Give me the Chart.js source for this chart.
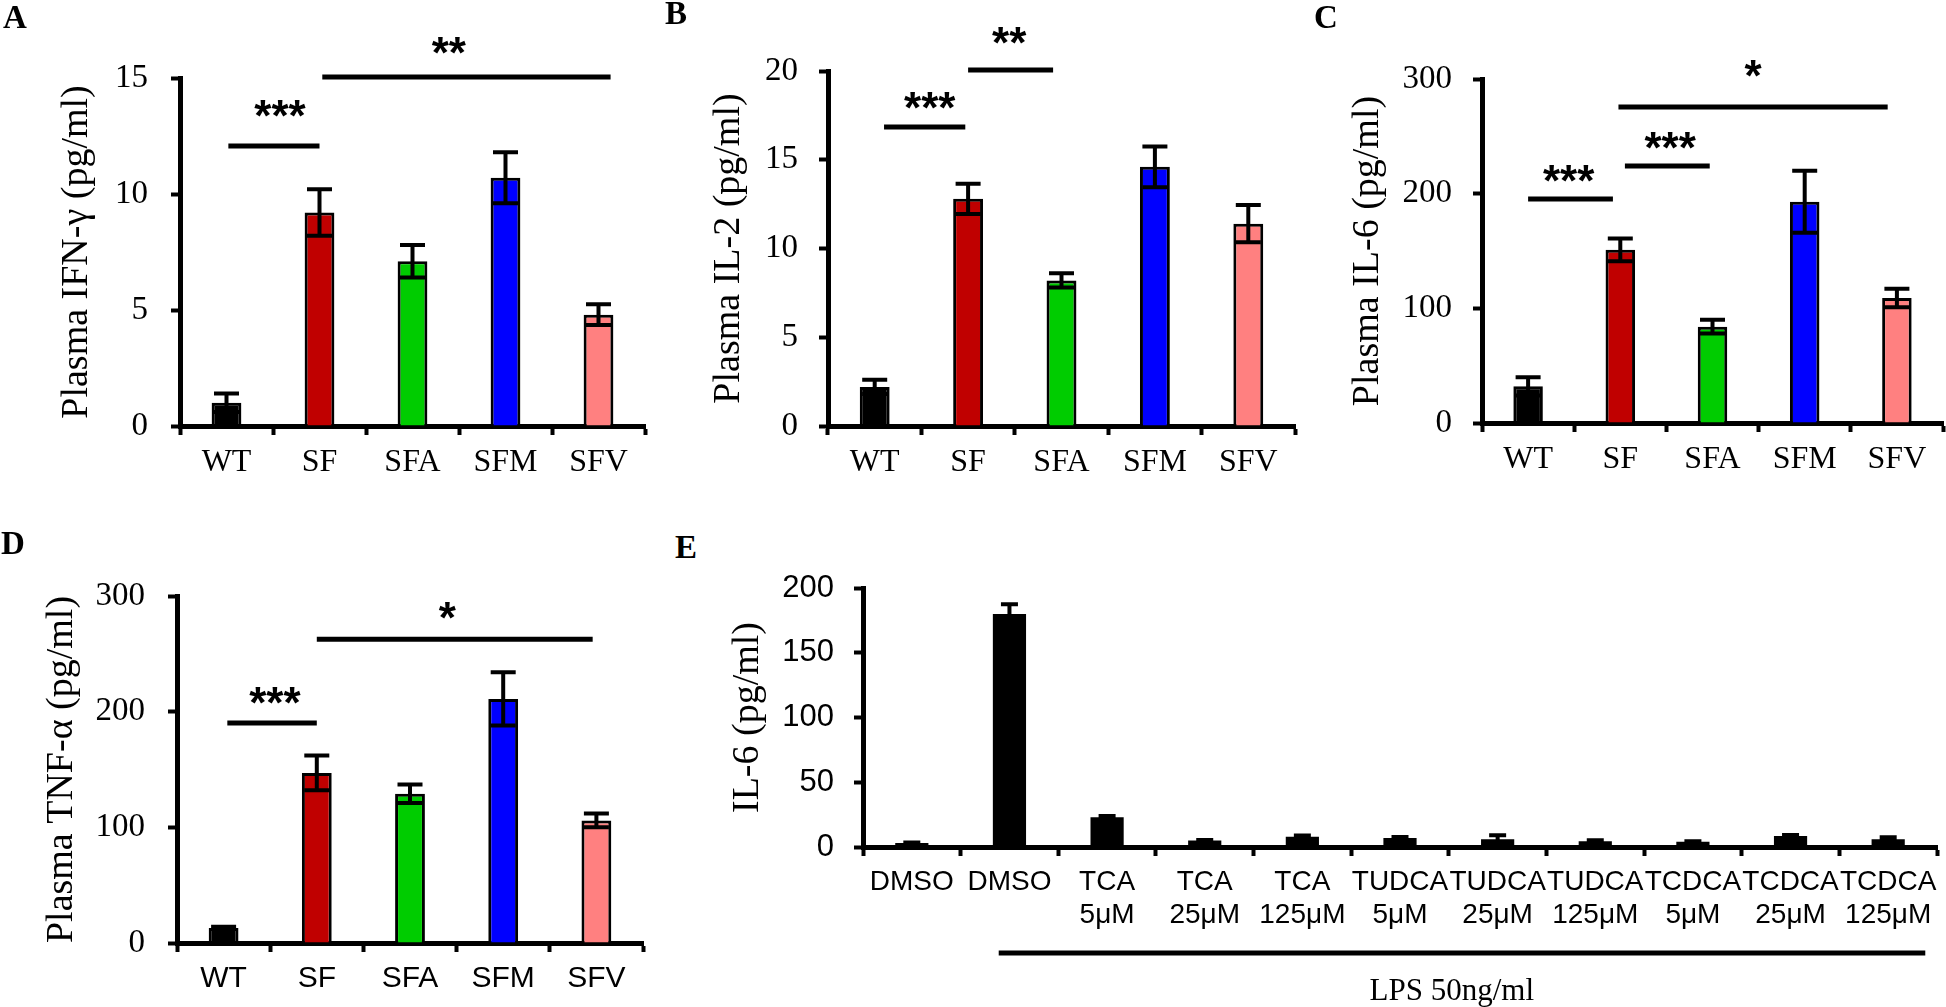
<!DOCTYPE html>
<html>
<head>
<meta charset="utf-8">
<script src="https://cdn.jsdelivr.net/npm/chart.js@4.4.1/dist/chart.umd.min.js"></script>
<style>
  body { margin: 0; background: #fff; width: 1946px; height: 1007px; position: relative; overflow: hidden; }
  canvas { position: absolute; }
  .tag { position: absolute; font: bold 33px 'Liberation Serif', serif; line-height: 1; color: #000; }
</style>
</head>
<body>
<canvas id="chartA" width="650" height="490" style="left:0;top:0"></canvas>
<canvas id="chartB" width="650" height="490" style="left:650px;top:0"></canvas>
<canvas id="chartC" width="646" height="490" style="left:1300px;top:0"></canvas>
<canvas id="chartD" width="650" height="517" style="left:0;top:490px"></canvas>
<canvas id="chartE" width="1246" height="487" style="left:700px;top:520px"></canvas>
<div class="tag" style="left:3px;top:1px">A</div>
<div class="tag" style="left:665px;top:-3px">B</div>
<div class="tag" style="left:1314px;top:1px">C</div>
<div class="tag" style="left:1px;top:527px">D</div>
<div class="tag" style="left:675px;top:531px">E</div>
<script>
// ---- data ----
var groups = ['WT', 'SF', 'SFA', 'SFM', 'SFV'];
var groupColors = ['#000000', '#c00000', '#00cc00', '#0000ff', '#ff8080'];

var ifng = [1.0, 9.2, 7.1, 10.7, 4.8];
var ifngErr = [0.4, 1.0, 0.7, 1.1, 0.45];

var il2 = [2.2, 12.8, 8.2, 14.6, 11.4];
var il2Err = [0.4, 0.85, 0.4, 1.15, 1.05];

var il6 = [32, 151, 84, 193, 109];
var il6Err = [8, 10, 6, 27, 8];

var tnf = [13, 147, 129, 211, 106];
var tnfErr = [1, 15, 8, 23, 6];

var treatments = [['DMSO'], ['DMSO'], ['TCA', '5μM'], ['TCA', '25μM'], ['TCA', '125μM'],
  ['TUDCA', '5μM'], ['TUDCA', '25μM'], ['TUDCA', '125μM'],
  ['TCDCA', '5μM'], ['TCDCA', '25μM'], ['TCDCA', '125μM']];
var il6Lps = [3, 180, 23, 5, 8, 7, 6, 4.5, 4, 8.5, 6];
var il6LpsErr = [0.5, 7.5, 1, 0.5, 0.8, 0.8, 3, 0.8, 0.5, 0.8, 1.5];

// significance bars: [from index, to index, line value, stars, star index, star value]
var sigA = [[0.02, 1.0, 12.07, '***', 0.575, 13.84], [1.03, 4.13, 15.04, '**', 2.39, 16.55]];
var sigB = [[0.1, 0.97, 16.85, '***', 0.59, 18.54], [1.0, 1.91, 20.06, '**', 1.44, 22.2]];
var sigC = [[0.0, 0.92, 195.3, '***', 0.44, 220.6], [1.05, 1.97, 224.2, '***', 1.54, 249.3],
  [0.98, 3.9, 275.5, '*', 2.44, 312.1]];
var sigD = [[0.04, 1.0, 190.1, '***', 0.55, 216.9], [1.0, 3.96, 262.7, '*', 2.40, 290.4]];

var SERIF = "'Liberation Serif', 'Times New Roman', serif";
var SANS = "'Liberation Sans', Arial, sans-serif";

// error bars, significance bars and the LPS bracket
var overlay = {
  id: 'overlay',
  afterDatasetsDraw: function (chart, args, opts) {
    var ctx = chart.ctx, xs = chart.scales.x, ys = chart.scales.y;
    var meta = chart.getDatasetMeta(0);
    var vals = chart.data.datasets[0].data;
    ctx.save();
    ctx.strokeStyle = '#000';
    ctx.fillStyle = '#000';
    ctx.lineWidth = 4;
    ctx.lineCap = 'butt';
    (opts.errors || []).forEach(function (e, i) {
      var cx = meta.data[i].x, hw = opts.cap / 2;
      var top = ys.getPixelForValue(vals[i] + e), bot = ys.getPixelForValue(vals[i] - e);
      ctx.beginPath();
      ctx.moveTo(cx, top); ctx.lineTo(cx, bot);
      ctx.moveTo(cx - hw, top); ctx.lineTo(cx + hw, top);
      ctx.moveTo(cx - hw, bot); ctx.lineTo(cx + hw, bot);
      ctx.stroke();
    });
    ctx.lineWidth = 5;
    ctx.font = 'bold 44px ' + SANS;
    ctx.textAlign = 'center';
    ctx.textBaseline = 'alphabetic';
    (opts.sig || []).forEach(function (s) {
      var py = ys.getPixelForValue(s[2]);
      ctx.beginPath();
      ctx.moveTo(xs.getPixelForValue(s[0]), py);
      ctx.lineTo(xs.getPixelForValue(s[1]), py);
      ctx.stroke();
      ctx.fillText(s[3], xs.getPixelForValue(s[4]), ys.getPixelForValue(s[5]) + 26);
    });
    if (opts.lps) {
      var b = chart.chartArea.bottom, L = opts.lps;
      ctx.beginPath();
      ctx.moveTo(xs.getPixelForValue(L.from), b + L.lineOffset);
      ctx.lineTo(xs.getPixelForValue(L.to), b + L.lineOffset);
      ctx.stroke();
      ctx.font = '31px ' + SERIF;
      ctx.textBaseline = 'middle';
      ctx.fillText(L.text, xs.getPixelForValue(L.textAt), b + L.textOffset);
    }
    ctx.restore();
  }
};

function panel(id, cfg) {
  var tickGrid = { drawOnChartArea: false, drawTicks: true, tickLength: 9, tickWidth: 4, tickColor: '#000', color: '#000' };
  return new Chart(document.getElementById(id), {
    type: 'bar',
    data: {
      labels: cfg.labels,
      datasets: [{
        data: cfg.values,
        backgroundColor: cfg.colors,
        borderColor: '#000',
        borderWidth: cfg.border,
        borderSkipped: 'start',
        barPercentage: cfg.barPct,
        categoryPercentage: 1
      }]
    },
    options: {
      responsive: false,
      animation: false,
      events: [],
      layout: { padding: cfg.pad },
      plugins: {
        legend: { display: false },
        tooltip: { enabled: false },
        overlay: { errors: cfg.errors, cap: cfg.cap, sig: cfg.sig, lps: cfg.lps }
      },
      scales: {
        x: {
          z: 1,
          grid: tickGrid,
          border: { display: true, color: '#000', width: 5 },
          ticks: { color: '#000', font: { family: cfg.xFont, size: cfg.xSize }, padding: cfg.xPad, autoSkip: false, maxRotation: 0 },
          afterFit: function (s) { s.height = cfg.xh; }
        },
        y: {
          min: 0,
          max: cfg.max,
          grid: tickGrid,
          border: { display: true, color: '#000', width: 5 },
          ticks: { stepSize: cfg.step, color: '#000', font: { family: cfg.yFont, size: cfg.ySize }, padding: cfg.yPad },
          title: { display: true, text: cfg.title, color: '#000', font: { family: SERIF, size: 38 }, padding: { top: cfg.titlePad, bottom: 0 } },
          afterFit: function (s) { s.width = cfg.yw; }
        }
      }
    },
    plugins: [overlay]
  });
}

panel('chartA', {
  labels: groups, values: ifng, errors: ifngErr, colors: groupColors, sig: sigA,
  max: 15, step: 5, title: 'Plasma IFN-γ (pg/ml)',
  pad: { left: 0, top: 78, right: 5, bottom: 0 }, yw: 180, xh: 64, titlePad: 54,
  xFont: SERIF, xSize: 32, xPad: 8, yFont: SERIF, ySize: 33, yPad: 23,
  border: 3, barPct: 0.32, cap: 25
});
panel('chartB', {
  labels: groups, values: il2, errors: il2Err, colors: groupColors, sig: sigB,
  max: 20, step: 5, title: 'Plasma IL-2 (pg/ml)',
  pad: { left: 0, top: 71, right: 5, bottom: 0 }, yw: 178, xh: 64, titlePad: 56,
  xFont: SERIF, xSize: 32, xPad: 8, yFont: SERIF, ySize: 33, yPad: 21,
  border: 3, barPct: 0.32, cap: 25
});
panel('chartC', {
  labels: groups, values: il6, errors: il6Err, colors: groupColors, sig: sigC,
  max: 300, step: 100, title: 'Plasma IL-6 (pg/ml)',
  pad: { left: 0, top: 79, right: 3, bottom: 0 }, yw: 182, xh: 67, titlePad: 45,
  xFont: SERIF, xSize: 32, xPad: 8, yFont: SERIF, ySize: 33, yPad: 21,
  border: 3, barPct: 0.32, cap: 25
});
panel('chartD', {
  labels: groups, values: tnf, errors: tnfErr, colors: groupColors, sig: sigD,
  max: 300, step: 100, title: 'Plasma TNF-α (pg/ml)',
  pad: { left: 0, top: 106, right: 7, bottom: 0 }, yw: 177, xh: 64, titlePad: 39,
  xFont: SANS, xSize: 30, xPad: 9, yFont: SERIF, ySize: 33, yPad: 23,
  border: 3, barPct: 0.32, cap: 25
});
panel('chartE', {
  labels: treatments, values: il6Lps, errors: il6LpsErr, colors: '#000000', sig: [],
  max: 200, step: 50, title: 'IL-6 (pg/ml)',
  pad: { left: 0, top: 68, right: 9, bottom: 0 }, yw: 163, xh: 160, titlePad: 25,
  xFont: SANS, xSize: 28, xPad: 9, yFont: SANS, ySize: 31, yPad: 20,
  border: 0, barPct: 0.34, cap: 17,
  lps: { from: 0.89, to: 10.38, lineOffset: 106, text: 'LPS 50ng/ml', textAt: 5.53, textOffset: 145 }
});
</script>
</body>
</html>
